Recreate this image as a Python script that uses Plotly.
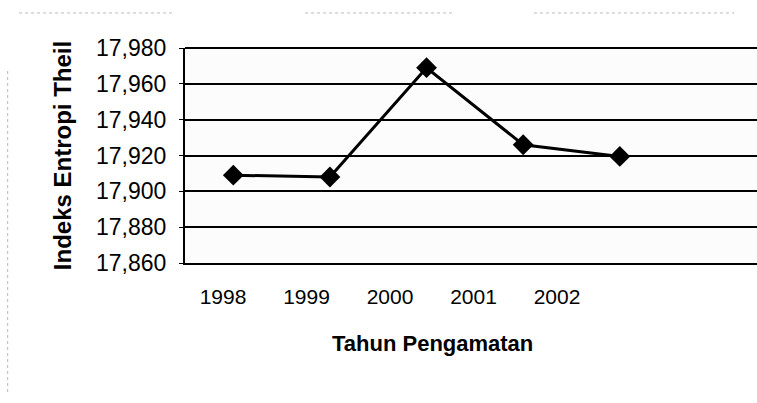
import plotly.graph_objects as go

years = ["1998", "1999", "2000", "2001", "2002"]
theil = [17909, 17908, 17969, 17926, 17919.5]
y_ticks = [17860, 17880, 17900, 17920, 17940, 17960, 17980]

fig = go.Figure()

# visible series on the primary x axis
fig.add_trace(go.Scatter(
    x=years, y=theil, mode="lines+markers", xaxis="x", yaxis="y",
    line=dict(color="black", width=3),
    marker=dict(symbol="diamond", size=16, color="black"),
    showlegend=False, hoverinfo="x+y",
))
# invisible carrier for the category labels axis
fig.add_trace(go.Scatter(
    x=years, y=theil, mode="lines", xaxis="x2", yaxis="y",
    line=dict(color="rgba(0,0,0,0)"), showlegend=False, hoverinfo="skip",
))

font = "Liberation Sans, Arial, sans-serif"

fig.update_layout(
    width=757, height=403, autosize=False,
    margin=dict(l=185, r=0, t=48, b=140),
    paper_bgcolor="white", plot_bgcolor="#fcfcfc",
    font=dict(family=font, color="black"),
    xaxis=dict(
        type="category", categoryarray=years, range=[-0.5, 5.42],
        showticklabels=False, showgrid=False, zeroline=False,
        showline=True, linecolor="black", linewidth=2,
    ),
    xaxis2=dict(
        type="category", categoryarray=years, range=[-0.455, 6.395],
        overlaying="x", anchor="y", side="bottom",
        showgrid=False, zeroline=False, showline=False,
        ticks="outside", ticklen=0, ticklabelstandoff=15,
        tickfont=dict(size=21, family=font),
    ),
    yaxis=dict(
        range=[17860, 17980], tickvals=y_ticks, tickformat=",d",
        showgrid=True, gridcolor="black", gridwidth=1.5,
        showline=True, linecolor="black", linewidth=2, mirror=False,
        ticks="outside", ticklen=4, tickcolor="black", ticklabelstandoff=8,
        tickfont=dict(size=23, family=font), zeroline=False,
        title=dict(text="<b>Indeks Entropi Theil</b>", font=dict(size=24, family=font), standoff=18),
    ),
    annotations=[
        dict(text="<b>Tahun Pengamatan</b>", xref="paper", yref="paper",
             x=0.432, y=-0.375, xanchor="center", yanchor="middle",
             showarrow=False, font=dict(size=22, family=font)),
    ],
    shapes=[
        dict(type="line", xref="paper", yref="paper", x0=0, x1=1, y0=1, y1=1,
             line=dict(color="black", width=2)),
        dict(type="line", xref="paper", yref="paper", x0=-0.29, x1=-0.02, y0=1.163, y1=1.163,
             line=dict(color="#bbbbbb", width=1, dash="dot")),
        dict(type="line", xref="paper", yref="paper", x0=0.21, x1=0.47, y0=1.163, y1=1.163,
             line=dict(color="#bbbbbb", width=1, dash="dot")),
        dict(type="line", xref="paper", yref="paper", x0=0.61, x1=0.96, y0=1.163, y1=1.163,
             line=dict(color="#bbbbbb", width=1, dash="dot")),
        dict(type="line", xref="paper", yref="paper", x0=-0.31, x1=-0.31, y0=-0.6, y1=0.9,
             line=dict(color="#bbbbbb", width=1, dash="dot")),
    ],
)

fig.write_html("out.html", config={"responsive": False, "displayModeBar": False},
               post_script="document.body.style.margin='0';")
